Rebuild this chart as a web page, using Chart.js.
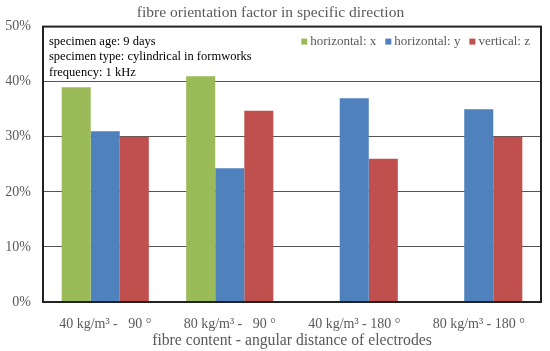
<!DOCTYPE html>
<html>
<head>
<meta charset="utf-8">
<script src="https://cdn.jsdelivr.net/npm/chart.js@4"></script>
<style>
  body { margin: 0; background: #fff; }
  #wrap { width: 550px; height: 351px; }
</style>
</head>
<body>
<div id="wrap"><canvas id="myChart" width="550" height="351"></canvas></div>
<script>
var labels = ['40 kg/m\u00b3 -   90 \u00b0', '80 kg/m\u00b3 -   90 \u00b0', '40 kg/m\u00b3 - 180 \u00b0', '80 kg/m\u00b3 - 180 \u00b0'];
var horizX = [39, 41, null, null];
var horizY = [31, 24.3, 37, 35];
var vertZ = [30, 34.7, 26, 30];
var notes = ['specimen age: 9 days', 'specimen type: cylindrical in formworks', 'frequency: 1 kHz'];

var serif = "'Liberation Serif', serif";

// frame round the plot area, the notes on the left and the legend on the right
var framePlugin = {
    id: 'frame',
    afterDatasetsDraw: function(chart) {
        var a = chart.chartArea;
        var c = chart.ctx;
        c.save();
        c.strokeStyle = '#222';
        c.lineWidth = 2;
        c.strokeRect(a.left, a.top, a.right - a.left, a.bottom - a.top);

        c.fillStyle = '#000';
        c.font = '12.5px ' + serif;
        c.textBaseline = 'middle';
        for (var i = 0; i < notes.length; i++) {
            c.fillText(notes[i], a.left + 6, a.top + 15 + i * 15.5);
        }

        // legend, right aligned
        c.font = '13px ' + serif;
        var sets = chart.data.datasets;
        var x = a.right - 11;
        var y = a.top + 15;
        for (var j = sets.length - 1; j >= 0; j--) {
            var w = c.measureText(sets[j].label).width;
            x -= w;
            c.fillStyle = '#595959';
            c.fillText(sets[j].label, x, y);
            x -= 9;
            c.fillStyle = sets[j].backgroundColor;
            c.fillRect(x, y - 3, 6, 6);
            x -= 9;
        }
        c.restore();
    }
};

var ctx = document.getElementById('myChart').getContext('2d');
var myChart = new Chart(ctx, {
    type: 'bar',
    data: {
        labels: labels,
        datasets: [
            { label: 'horizontal: x', data: horizX, backgroundColor: '#9bbb59' },
            { label: 'horizontal: y', data: horizY, backgroundColor: '#4f81bd' },
            { label: 'vertical: z', data: vertZ, backgroundColor: '#c0504d' }
        ]
    },
    options: {
        responsive: false,
        animation: false,
        layout: { padding: { left: 0, right: 9, top: 0, bottom: 0 } },
        datasets: { bar: { categoryPercentage: 0.7, barPercentage: 1 } },
        plugins: {
            title: {
                display: true,
                text: 'fibre orientation factor in specific direction',
                color: '#595959',
                font: { family: serif, size: 15.5, weight: 'normal' },
                padding: { top: 4, bottom: 4 }
            },
            legend: { display: false },
            tooltip: { enabled: false }
        },
        scales: {
            x: {
                grid: { display: false, drawTicks: false },
                border: { display: false },
                ticks: { color: '#595959', font: { family: serif, size: 14 }, padding: 14 },
                title: {
                    display: true,
                    text: 'fibre content - angular distance of electrodes',
                    color: '#595959',
                    font: { family: serif, size: 15.7 },
                    padding: { top: 0, bottom: 1 }
                },
                afterFit: function(axis) { axis.height = 49; }
            },
            y: {
                min: 0,
                max: 50,
                ticks: {
                    stepSize: 10,
                    color: '#595959',
                    font: { family: serif, size: 14 },
                    padding: 12,
                    callback: function(v) { return v + '%'; }
                },
                grid: { color: '#555', lineWidth: 1, drawTicks: false },
                border: { display: false },
                afterFit: function(axis) { axis.width = 43; }
            }
        }
    },
    plugins: [framePlugin]
});
</script>
</body>
</html>
